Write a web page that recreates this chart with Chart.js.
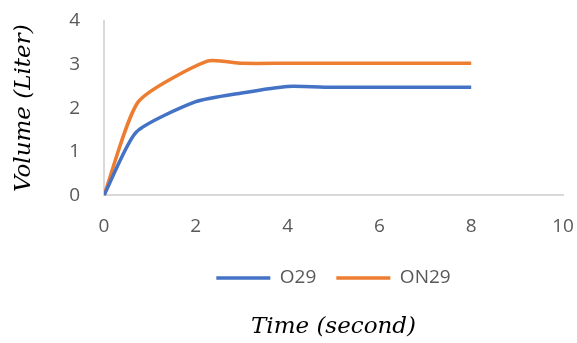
<!DOCTYPE html>
<html>
<head>
<meta charset="utf-8">
<script src="https://cdn.jsdelivr.net/npm/chart.js@4"></script>
<style>
  html, body { margin: 0; padding: 0; background: #fff; }
  #wrap { width: 577px; height: 343px; }
</style>
</head>
<body>
<div id="wrap"><canvas id="chartVolume" width="577" height="343"></canvas></div>
<script>
// values
var timeO29  = [0, 0.7, 2, 3, 4, 5, 6, 7, 8];
var volO29   = [0, 1.45, 2.15, 2.35, 2.5, 2.48, 2.48, 2.48, 2.48];
var timeON29 = [0, 0.75, 2.25, 3, 4, 5, 6, 7, 8];
var volON29  = [0, 2.15, 3.08, 3.03, 3.03, 3.03, 3.03, 3.03, 3.03];
var xTicks = [0, 2, 4, 6, 8, 10];
var yTicks = [0, 1, 2, 3, 4];

var tickColor = '#595959';
var axisColor = '#d9d9d9';
var tickFont = { family: 'Open Sans', size: 19 };
var titleFont = { family: 'DejaVu Serif', style: 'italic', weight: 'normal', size: 23 };

toPoints = function(xs, ys) {
  return xs.map(function(x, i) { return {x: x, y: ys[i]}; });
}

makeDataset = function(label, xs, ys, color) {
  return {
    label: label,
    data: toPoints(xs, ys),
    borderColor: color,
    backgroundColor: color,
    borderWidth: 3.5,
    pointRadius: 0,
    tension: 0.2,
    fill: false,
  };
}

var config = {
  type: 'line',
  data: {
    datasets: [
      makeDataset('O29', timeO29, volO29, '#4472c4'),
      makeDataset('ON29', timeON29, volON29, '#ed7d31'),
    ]
  },
  options: {
    responsive: false,
    animation: false,
    layout: { padding: { left: 0, right: 0, top: 0, bottom: 2 } },
    plugins: {
      tooltip: { enabled: false },
      legend: {
        position: 'bottom',
        fullSize: false,
        labels: {
          usePointStyle: true,
          pointStyle: 'line',
          pointStyleWidth: 54,
          color: tickColor,
          font: tickFont,
          padding: 20,
        }
      },
      title: {
        display: true,
        position: 'bottom',
        fullSize: false,
        text: 'Time (second)',
        color: '#000',
        font: titleFont,
        padding: { top: 16, bottom: 0 },
      }
    },
    scales: {
      x: {
        type: 'linear',
        min: 0,
        max: 10,
        afterBuildTicks: function(s) { s.ticks = xTicks.map(function(v) { return {value: v}; }); },
        afterFit: function(s) { s.height = 53; s.paddingRight = 14; },
        grid: { display: false },
        border: { display: true, color: axisColor, width: 2 },
        ticks: { color: tickColor, font: tickFont, padding: 12, maxRotation: 0 },
      },
      y: {
        min: 0,
        max: 4,
        afterBuildTicks: function(s) { s.ticks = yTicks.map(function(v) { return {value: v}; }); },
        afterFit: function(s) { s.width = 104; s.paddingTop = 21; },
        grid: { display: false },
        border: { display: true, color: axisColor, width: 2 },
        ticks: { color: tickColor, font: tickFont, padding: 16 },
        title: {
          display: true,
          text: 'Volume (Liter)',
          color: '#000',
          font: titleFont,
          padding: { top: 10, bottom: 0 },
        }
      }
    }
  }
};

window.chartVolume = new Chart(document.getElementById('chartVolume').getContext('2d'), config);
</script>
</body>
</html>
